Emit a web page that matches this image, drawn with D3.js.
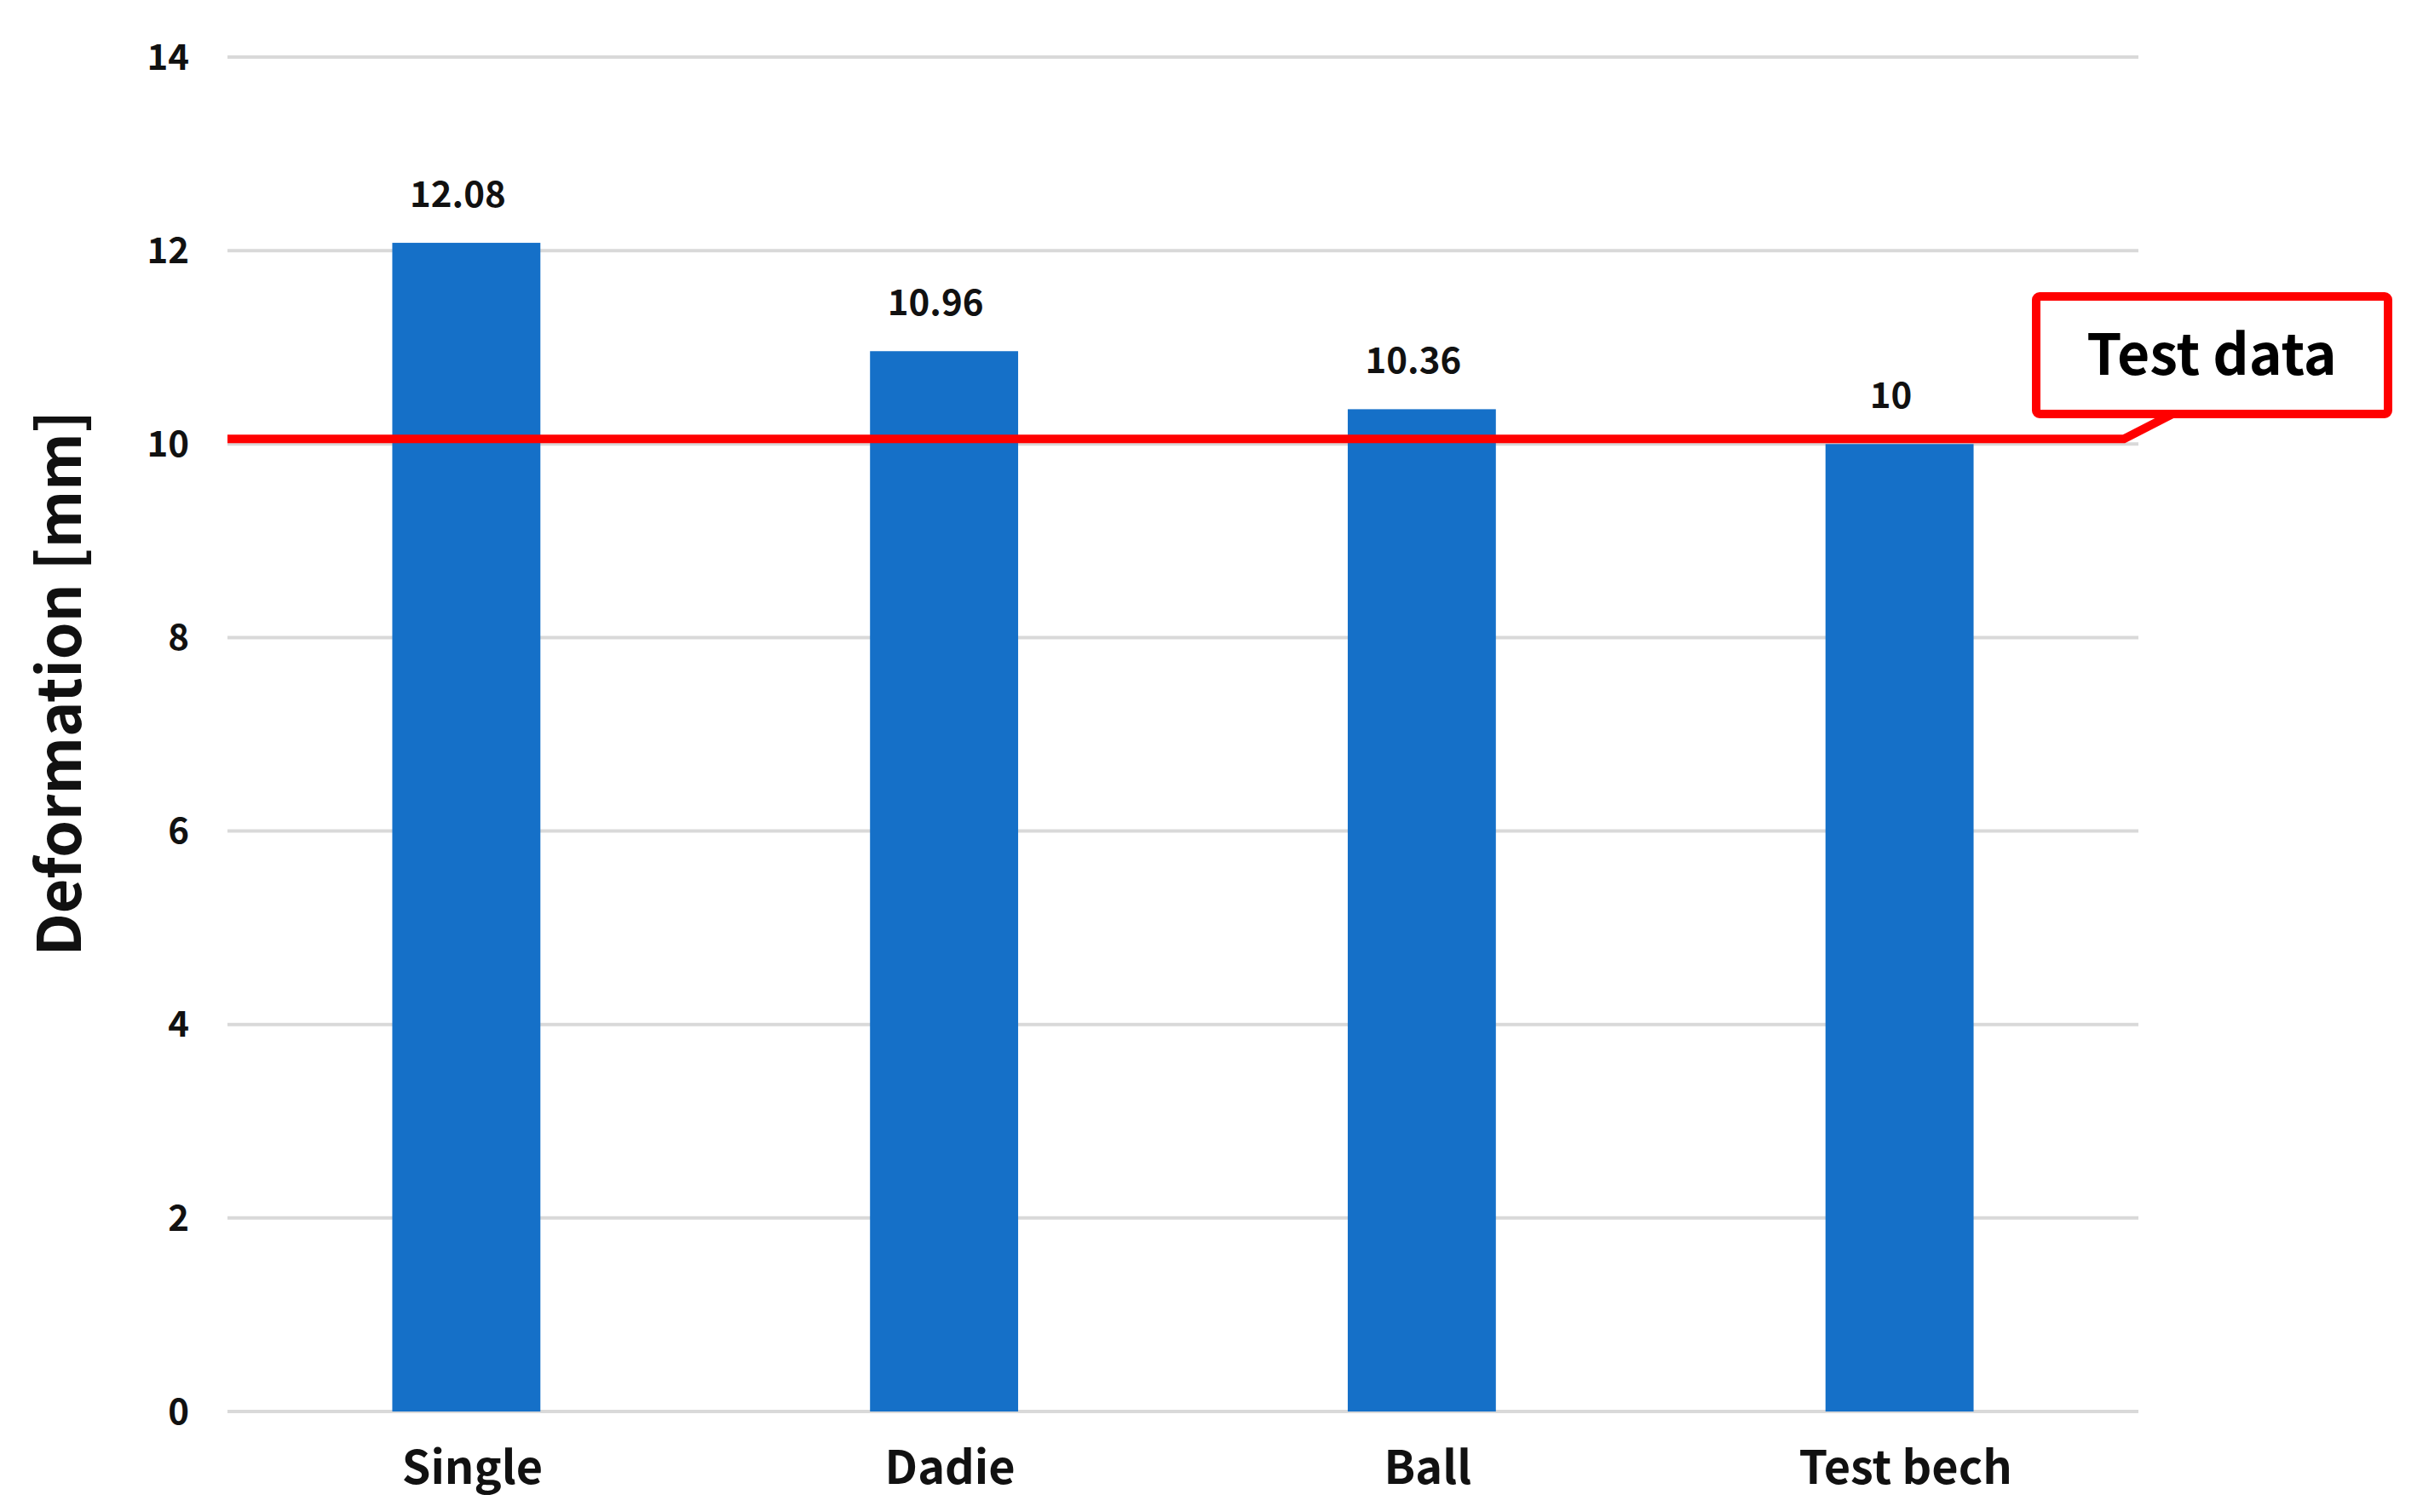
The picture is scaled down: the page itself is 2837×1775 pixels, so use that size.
<!DOCTYPE html>
<html><head><meta charset="utf-8">
<script src="https://cdn.jsdelivr.net/npm/d3@7"></script>
<style>body{margin:0;background:#fff}text{font-family:"Noto Sans CJK KR","Open Sans",sans-serif;font-weight:bold}</style>
</head><body><svg id="c" width="2837" height="1775"></svg>
<script>
const categories = ["Single","Dadie","Ball","Test bech"];
const values = [12.08,10.96,10.36,10];
const labels = ["12.08","10.96","10.36","10"];
const yTicks = [0,2,4,6,8,10,12,14];
const testValue = 10;

const svg = d3.select("#c");
const L=267,R=2510,T=67,B=1657;
const x=d3.scaleBand().domain(categories).range([L,R]).paddingInner(0.69).paddingOuter(0.345);
const y=d3.scaleLinear().domain([0,14]).range([B,T]);

svg.append("g").selectAll("line").data(yTicks).join("line")
 .attr("x1",L).attr("x2",R).attr("y1",d=>y(d)).attr("y2",d=>y(d))
 .attr("stroke","#d9d9d9").attr("stroke-width",4);
svg.append("g").selectAll("text").data(yTicks).join("text")
 .attr("x",222).attr("y",d=>y(d)).attr("dy","0.35em").attr("text-anchor","end")
 .attr("font-size",42).attr("fill","#111").text(d=>d);

svg.append("g").selectAll("rect").data(values).join("rect")
 .attr("x",(d,i)=>x(categories[i])).attr("width",x.bandwidth())
 .attr("y",d=>y(d)).attr("height",d=>B-y(d)).attr("fill","#1570c8");
svg.append("g").selectAll("text").data(values).join("text")
 .attr("x",(d,i)=>x(categories[i])+x.bandwidth()/2-10).attr("y",d=>y(d)-42)
 .attr("text-anchor","middle").attr("font-size",42).attr("fill","#111").text((d,i)=>labels[i]);
svg.append("g").selectAll("text").data(categories).join("text")
 .attr("x",d=>x(d)+x.bandwidth()/2+7).attr("y",1742)
 .attr("text-anchor","middle").attr("font-size",54).attr("fill","#111").text(d=>d);

svg.append("text").attr("transform",`translate(95,${(T+B)/2-60}) rotate(-90)`)
 .attr("text-anchor","middle").attr("font-size",70).attr("fill","#111").text("Deformation [mm]");

const ty=y(testValue)-6;
svg.append("path").attr("d",`M${L},${ty}H2493L2550,486`).attr("fill","none")
 .attr("stroke","#ff0000").attr("stroke-width",10);
svg.append("rect").attr("x",2390).attr("y",348).attr("width",413).attr("height",138).attr("rx",4)
 .attr("fill","#fff").attr("stroke","#ff0000").attr("stroke-width",10);
svg.append("text").attr("x",2596).attr("y",440).attr("text-anchor","middle")
 .attr("font-size",66).attr("fill","#000").text("Test data");
</script></body></html>
